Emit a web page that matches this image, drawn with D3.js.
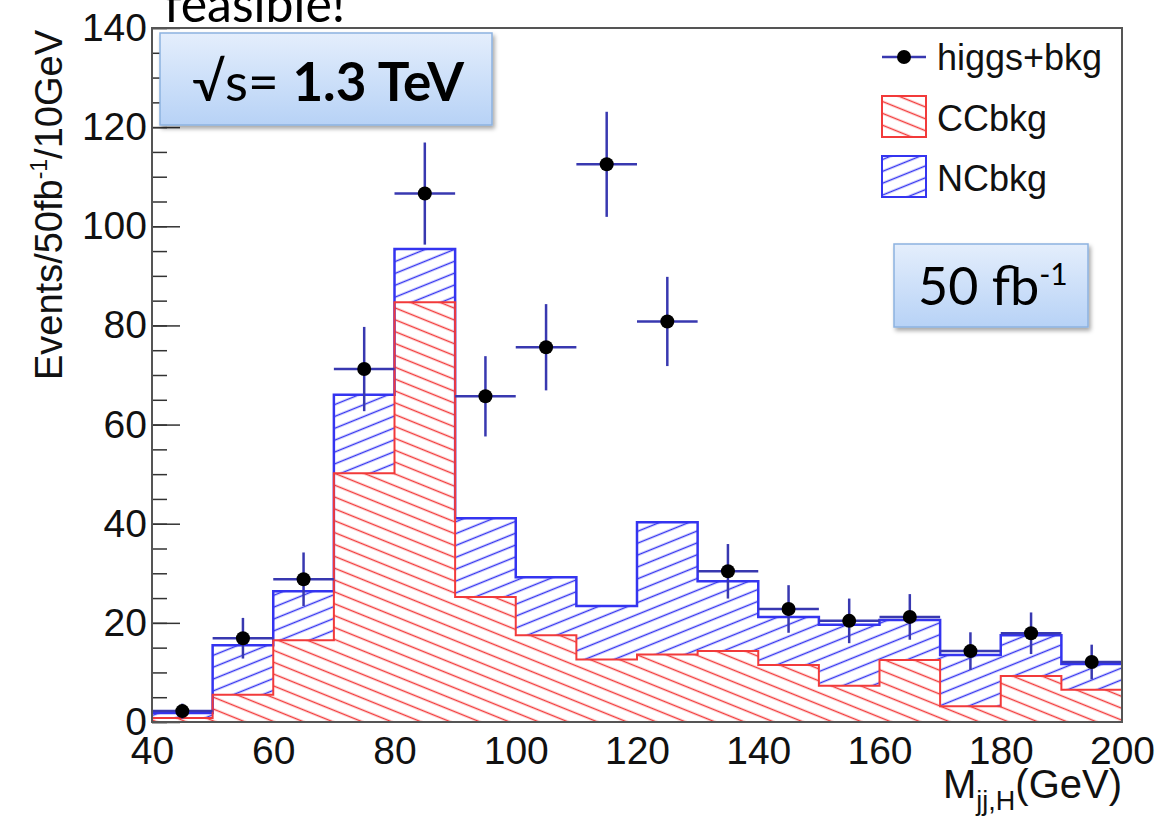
<!DOCTYPE html>
<html>
<head>
<meta charset="utf-8">
<script src="https://cdn.jsdelivr.net/npm/d3@7"></script>
<style>
  html, body { margin: 0; padding: 0; background: #fff; }
  svg { display: block; }
</style>
</head>
<body>
<svg id="chart" width="1161" height="818"></svg>
<script>
// bin edges in GeV, 10 GeV wide
var binEdges = [40, 50, 60, 70, 80, 90, 100, 110, 120, 130, 140, 150, 160, 170, 180, 190, 200];
// stacked backgrounds (events per bin)
var ccValues = [0.8, 5.5, 16.5, 50.2, 84.7, 25.2, 17.5, 12.6, 13.6, 14.3, 11.5, 7.3, 12.5, 3.2, 9.3, 6.5];
var ncValues = [1.0, 10.0, 9.9, 15.8, 10.7, 15.9, 11.7, 10.8, 26.7, 14.1, 9.7, 12.3, 8.1, 10.3, 8.2, 5.2];
// higgs+bkg points
var dataCenters = [45, 55, 65, 75, 85, 95, 105, 115, 125, 135, 145, 155, 165, 175, 185, 195];
var dataValues = [2.2, 16.9, 28.8, 71.2, 106.6, 65.7, 75.6, 112.5, 80.8, 30.4, 22.8, 20.4, 21.2, 14.3, 17.9, 12.1];
var dataErrors = [1.5, 4.1, 5.4, 8.5, 10.3, 8.1, 8.7, 10.6, 9.0, 5.5, 4.8, 4.5, 4.6, 3.8, 4.2, 3.5];

var yTicks = [0, 20, 40, 60, 80, 100, 120, 140];
var xTicks = [40, 60, 80, 100, 120, 140, 160, 180, 200];

var colors = {
  cc: '#f23a3a',
  nc: '#3434f0',
  err: '#3838b0',
  frame: '#555'
};

var axisFont = 'Liberation Sans, Arial, Helvetica, sans-serif';
var boxFont = 'Lato, Open Sans, sans-serif';

var width = 1161, height = 818;
var margin = { top: 28, right: 39, bottom: 96, left: 152 };

var svg = d3.select('#chart');
var defs = svg.append('defs');

function hatch(id, color, angle) {
  var p = defs.append('pattern')
    .attr('id', id)
    .attr('patternUnits', 'userSpaceOnUse')
    .attr('width', 12)
    .attr('height', 11)
    .attr('patternTransform', 'rotate(' + angle + ')');
  p.append('line')
    .attr('x1', -1).attr('x2', 13)
    .attr('y1', 5.5).attr('y2', 5.5)
    .attr('stroke', color)
    .attr('stroke-width', 1.5);
}
hatch('hatchCC', colors.cc, 22);
hatch('hatchNC', colors.nc, -22);

var grad = defs.append('linearGradient')
  .attr('id', 'boxGrad')
  .attr('x1', 0).attr('y1', 0).attr('x2', 0).attr('y2', 1);
grad.append('stop').attr('offset', '0%').attr('stop-color', '#e4eefc');
grad.append('stop').attr('offset', '100%').attr('stop-color', '#b7d2f6');

var shadow = defs.append('filter').attr('id', 'boxShadow')
  .attr('x', '-10%').attr('y', '-10%').attr('width', '130%').attr('height', '140%');
shadow.append('feDropShadow')
  .attr('dx', 2).attr('dy', 3).attr('stdDeviation', 2)
  .attr('flood-color', '#000').attr('flood-opacity', 0.35);

defs.append('clipPath').attr('id', 'plotClip')
  .append('rect')
  .attr('x', margin.left).attr('y', margin.top)
  .attr('width', width - margin.left - margin.right)
  .attr('height', height - margin.top - margin.bottom);

var x = d3.scaleLinear().domain([40, 200]).range([margin.left, width - margin.right]);
var y = d3.scaleLinear().domain([0, 140]).range([height - margin.bottom, margin.top]);

// cut-off title text above the frame
svg.append('text')
  .attr('x', 164)
  .attr('y', 22)
  .attr('font-family', boxFont)
  .attr('font-size', '50px')
  .attr('fill', '#000')
  .text('feasible!');

// stacked histogram rows (last row repeats to close the step)
var rows = ccValues.map(function (v, i) {
  return { x: binEdges[i], cc: v, nc: ncValues[i] };
});
rows.push({ x: binEdges[binEdges.length - 1], cc: ccValues[ccValues.length - 1], nc: ncValues[ncValues.length - 1] });

var series = d3.stack().keys(['cc', 'nc'])(rows);

var plot = svg.append('g').attr('clip-path', 'url(#plotClip)');

var area = d3.area()
  .curve(d3.curveStepAfter)
  .x(function (d) { return x(d.data.x); })
  .y0(function (d) { return y(d[0]); })
  .y1(function (d) { return y(d[1]); });

var outline = d3.line()
  .curve(d3.curveStepAfter)
  .x(function (d) { return x(d.data.x); })
  .y(function (d) { return y(d[1]); });

plot.append('path')
  .attr('d', area(series[0]))
  .attr('fill', 'url(#hatchCC)');
plot.append('path')
  .attr('d', area(series[1]))
  .attr('fill', 'url(#hatchNC)');

plot.append('path')
  .attr('d', outline(series[1]))
  .attr('fill', 'none')
  .attr('stroke', colors.nc)
  .attr('stroke-width', 2.5);
plot.append('path')
  .attr('d', outline(series[0]))
  .attr('fill', 'none')
  .attr('stroke', colors.cc)
  .attr('stroke-width', 2);

// data points with error bars
var pts = plot.append('g');
dataCenters.forEach(function (c, i) {
  var g = pts.append('g');
  g.append('line')
    .attr('x1', x(binEdges[i])).attr('x2', x(binEdges[i + 1]))
    .attr('y1', y(dataValues[i])).attr('y2', y(dataValues[i]))
    .attr('stroke', colors.err).attr('stroke-width', 2.5);
  g.append('line')
    .attr('x1', x(c)).attr('x2', x(c))
    .attr('y1', y(dataValues[i] - dataErrors[i])).attr('y2', y(dataValues[i] + dataErrors[i]))
    .attr('stroke', colors.err).attr('stroke-width', 2.5);
  g.append('circle')
    .attr('cx', x(c)).attr('cy', y(dataValues[i]))
    .attr('r', 7)
    .attr('fill', '#000');
});

// y axis: major + minor ticks pointing inward
var yMinor = svg.append('g')
  .attr('transform', 'translate(' + margin.left + ',0)')
  .call(d3.axisLeft(y).ticks(28).tickSize(-15).tickFormat(''));
yMinor.select('.domain').remove();
yMinor.selectAll('line').attr('stroke', '#333').attr('stroke-width', 1.5);

var yAxis = svg.append('g')
  .attr('transform', 'translate(' + margin.left + ',0)')
  .call(d3.axisLeft(y).tickValues(yTicks).tickSize(-28).tickPadding(5));
yAxis.select('.domain').remove();
yAxis.selectAll('line').attr('stroke', '#333').attr('stroke-width', 1.5);
yAxis.selectAll('text')
  .attr('font-family', axisFont)
  .attr('font-size', '39px')
  .attr('fill', '#111');

var xAxis = svg.append('g')
  .attr('transform', 'translate(0,' + (height - margin.bottom) + ')')
  .call(d3.axisBottom(x).tickValues(xTicks).tickSize(0).tickPadding(14));
xAxis.select('.domain').remove();
xAxis.selectAll('text')
  .attr('font-family', axisFont)
  .attr('font-size', '39px')
  .attr('fill', '#111');

// frame
svg.append('rect')
  .attr('x', margin.left).attr('y', margin.top)
  .attr('width', width - margin.left - margin.right)
  .attr('height', height - margin.top - margin.bottom)
  .attr('fill', 'none')
  .attr('stroke', colors.frame)
  .attr('stroke-width', 2);

// axis titles
var yTitle = svg.append('text')
  .attr('transform', 'translate(62,30) rotate(-90)')
  .attr('text-anchor', 'end')
  .attr('font-family', axisFont)
  .attr('font-size', '38px')
  .attr('fill', '#111');
yTitle.append('tspan').text('Events/50fb');
yTitle.append('tspan').attr('dy', -15).attr('font-size', '23px').text('-1');
yTitle.append('tspan').attr('dy', 15).text('/10GeV');

var xTitle = svg.append('text')
  .attr('x', width - margin.right)
  .attr('y', 798)
  .attr('text-anchor', 'end')
  .attr('font-family', axisFont)
  .attr('font-size', '40px')
  .attr('fill', '#111');
xTitle.append('tspan').text('M');
xTitle.append('tspan').attr('dy', 12).attr('font-size', '27px').text('jj,H');
xTitle.append('tspan').attr('dy', -12).text('(GeV)');

// legend
var legend = svg.append('g').attr('font-family', axisFont).attr('font-size', '36px').attr('fill', '#111');
var lx = 882, lw = 44;

legend.append('line')
  .attr('x1', lx).attr('x2', lx + lw).attr('y1', 57).attr('y2', 57)
  .attr('stroke', colors.err).attr('stroke-width', 2.5);
legend.append('circle').attr('cx', lx + lw / 2).attr('cy', 57).attr('r', 7).attr('fill', '#000');
legend.append('text').attr('x', 937).attr('y', 70).text('higgs+bkg');

legend.append('rect')
  .attr('x', lx).attr('y', 96).attr('width', lw).attr('height', 41)
  .attr('fill', 'url(#hatchCC)').attr('stroke', colors.cc).attr('stroke-width', 2);
legend.append('text').attr('x', 937).attr('y', 131).text('CCbkg');

legend.append('rect')
  .attr('x', lx).attr('y', 156).attr('width', lw).attr('height', 41)
  .attr('fill', 'url(#hatchNC)').attr('stroke', colors.nc).attr('stroke-width', 2);
legend.append('text').attr('x', 937).attr('y', 191).text('NCbkg');

// annotation boxes
function infoBox(bx, by, bw, bh) {
  var g = svg.append('g');
  g.append('rect')
    .attr('x', bx).attr('y', by).attr('width', bw).attr('height', bh)
    .attr('fill', 'url(#boxGrad)')
    .attr('stroke', '#8cb2e0')
    .attr('stroke-width', 1.5)
    .attr('filter', 'url(#boxShadow)');
  return g;
}

var sBox = infoBox(160, 33, 332, 92);
var sText = sBox.append('text')
  .attr('x', 328).attr('y', 101)
  .attr('text-anchor', 'middle')
  .attr('font-family', boxFont)
  .attr('font-size', '53px')
  .attr('fill', '#000');
sText.append('tspan').text('\u221As= ');
sText.append('tspan').attr('font-weight', 'bold').text('1.3 TeV');

var lBox = infoBox(894, 244, 194, 83);
var lText = lBox.append('text')
  .attr('x', 918).attr('y', 305)
  .attr('font-family', boxFont)
  .attr('font-size', '52px')
  .attr('fill', '#000');
lText.append('tspan').text('50 fb');
lText.append('tspan').attr('dy', -20).attr('font-size', '30px').text('-1');
</script>
</body>
</html>
